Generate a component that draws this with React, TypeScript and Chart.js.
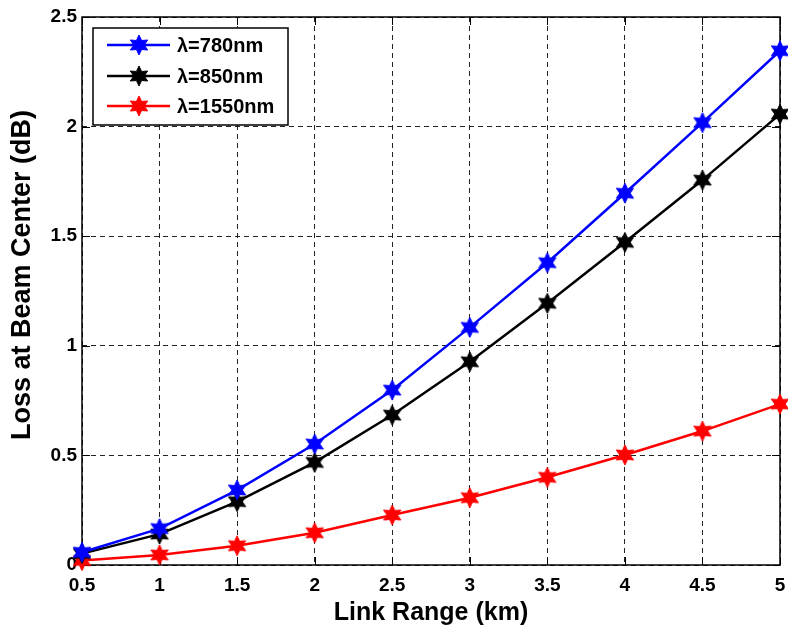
import React, { useEffect, useRef } from "react";
import { Chart, registerables } from "chart.js";

Chart.register(...registerables);

const ranges = [0.5, 1, 1.5, 2, 2.5, 3, 3.5, 4, 4.5, 5];
const loss780 = [0.058, 0.166, 0.342, 0.552, 0.798, 1.084, 1.379, 1.696, 2.018, 2.346];
const loss850 = [0.052, 0.141, 0.289, 0.468, 0.684, 0.927, 1.194, 1.472, 1.756, 2.057];
const loss1550 = [0.02, 0.046, 0.088, 0.147, 0.228, 0.307, 0.4, 0.502, 0.611, 0.734];
const seriesLabels = ["λ=780nm", "λ=850nm", "λ=1550nm"];
const seriesColors = ["#0000ff", "#000000", "#ff0000"];
const xTitle = "Link Range (km)";
const yTitle = "Loss at Beam Center (dB)";

function makeStar(color: string): HTMLCanvasElement {
  const R = 10;
  const r = 5.2;
  const size = 2 * R + 4;
  const c = document.createElement("canvas");
  c.width = size;
  c.height = size;
  const ctx = c.getContext("2d")!;
  ctx.translate(size / 2, size / 2);
  ctx.beginPath();
  for (let i = 0; i < 12; i++) {
    const a = -Math.PI / 2 + (i * Math.PI) / 6;
    const rad = i % 2 === 0 ? R : r;
    const px = rad * Math.cos(a);
    const py = rad * Math.sin(a);
    if (i === 0) ctx.moveTo(px, py);
    else ctx.lineTo(px, py);
  }
  ctx.closePath();
  ctx.fillStyle = color;
  ctx.fill();
  ctx.strokeStyle = color;
  ctx.lineWidth = 1;
  ctx.stroke();
  return c;
}

const fmt = (v: any) => String(Math.round(Number(v) * 10) / 10);

export default function App() {
  const ref = useRef<HTMLCanvasElement | null>(null);

  useEffect(() => {
    document.body.style.margin = "0";
    const canvas = ref.current;
    if (!canvas) return;
    const stars = seriesColors.map((c) => makeStar(c));
    const allData = [loss780, loss850, loss1550];

    const framePlugin = {
      id: "frame",
      beforeDatasetsDraw(chart: any) {
        const { ctx, chartArea } = chart;
        const { left, right, top, bottom } = chartArea;
        const xs = chart.scales.x;
        const ys = chart.scales.y;
        ctx.save();
        ctx.strokeStyle = "#000";
        ctx.lineWidth = 1;
        ctx.setLineDash([]);
        const tl = 8;
        ctx.beginPath();
        for (const v of ranges) {
          const px = Math.round(xs.getPixelForValue(v)) + 0.5;
          ctx.moveTo(px, bottom);
          ctx.lineTo(px, bottom - tl);
          ctx.moveTo(px, top);
          ctx.lineTo(px, top + tl);
        }
        for (let v = 0; v <= 2.5001; v += 0.5) {
          const py = Math.round(ys.getPixelForValue(v)) + 0.5;
          ctx.moveTo(left, py);
          ctx.lineTo(left + tl, py);
          ctx.moveTo(right, py);
          ctx.lineTo(right - tl, py);
        }
        ctx.stroke();
        ctx.lineWidth = 1.5;
        ctx.strokeRect(left, top, right - left, bottom - top);
        ctx.restore();
      },
      afterDraw(chart: any) {
        const { ctx, chartArea } = chart;
        ctx.save();
        ctx.fillStyle = "#000";
        ctx.font = "bold 25px 'Liberation Sans', Arial, sans-serif";
        ctx.textAlign = "center";
        ctx.textBaseline = "alphabetic";
        ctx.fillText(xTitle, (chartArea.left + chartArea.right) / 2, 620);
        ctx.save();
        ctx.translate(30, 275);
        ctx.rotate(-Math.PI / 2);
        ctx.font = "bold 27px 'Liberation Sans', Arial, sans-serif";
        ctx.fillText(yTitle, 0, 0);
        ctx.restore();
        const bx = 93, by = 28, bw = 195, bh = 97;
        ctx.fillStyle = "#fff";
        ctx.fillRect(bx, by, bw, bh);
        ctx.strokeStyle = "#000";
        ctx.lineWidth = 1.5;
        ctx.strokeRect(bx, by, bw, bh);
        const rows = [45, 76, 106];
        ctx.font = "bold 20px 'Liberation Sans', Arial, sans-serif";
        ctx.textAlign = "left";
        ctx.textBaseline = "middle";
        seriesLabels.forEach((lab, i) => {
          const y = rows[i];
          ctx.strokeStyle = seriesColors[i];
          ctx.lineWidth = 2.5;
          ctx.beginPath();
          ctx.moveTo(107, y);
          ctx.lineTo(170, y);
          ctx.stroke();
          const s = stars[i];
          ctx.drawImage(s, 139 - s.width / 2, y - s.height / 2);
          ctx.fillStyle = "#000";
          ctx.fillText(lab, 177, y + 1);
        });
        ctx.restore();
      },
    };

    const chart = new Chart(canvas, {
      type: "line",
      data: {
        datasets: seriesLabels.map((lab, i) => ({
          label: lab,
          data: ranges.map((x, j) => ({ x, y: allData[i][j] })),
          borderColor: seriesColors[i],
          backgroundColor: seriesColors[i],
          borderWidth: 2.5,
          pointStyle: stars[i] as any,
          pointRadius: 10,
          pointHoverRadius: 10,
          tension: 0,
          clip: false as any,
        })),
      },
      options: {
        responsive: false,
        animation: false,
        events: [],
        layout: { autoPadding: false, padding: { top: 17, right: 8, left: 0, bottom: 0 } },
        plugins: {
          legend: { display: false },
          tooltip: { enabled: false },
        },
        scales: {
          x: {
            type: "linear",
            min: 0.5,
            max: 5,
            ticks: {
              stepSize: 0.5,
              color: "#000",
              padding: 9,
              maxRotation: 0,
              callback: fmt,
              font: { family: "'Liberation Sans', Arial, sans-serif", size: 19, weight: "bold" },
            },
            grid: { color: "#222", lineWidth: 1, drawTicks: false },
            border: { display: false, dash: [5, 4] },
            afterFit(scale: any) {
              scale.height = 66;
              scale.paddingLeft = 0;
              scale.paddingRight = 0;
            },
          },
          y: {
            type: "linear",
            min: 0,
            max: 2.5,
            ticks: {
              stepSize: 0.5,
              color: "#000",
              padding: 5,
              callback: fmt,
              font: { family: "'Liberation Sans', Arial, sans-serif", size: 19, weight: "bold" },
            },
            grid: { color: "#222", lineWidth: 1, drawTicks: false },
            border: { display: false, dash: [5, 4] },
            afterFit(scale: any) {
              scale.width = 82;
              scale.paddingTop = 0;
              scale.paddingBottom = 0;
            },
          },
        },
      } as any,
      plugins: [framePlugin],
    });
    return () => chart.destroy();
  }, []);

  return (
    <div style={{ width: 788, height: 631 }}>
      <canvas ref={ref} width={788} height={631} style={{ width: 788, height: 631, display: "block" }} />
    </div>
  );
}
